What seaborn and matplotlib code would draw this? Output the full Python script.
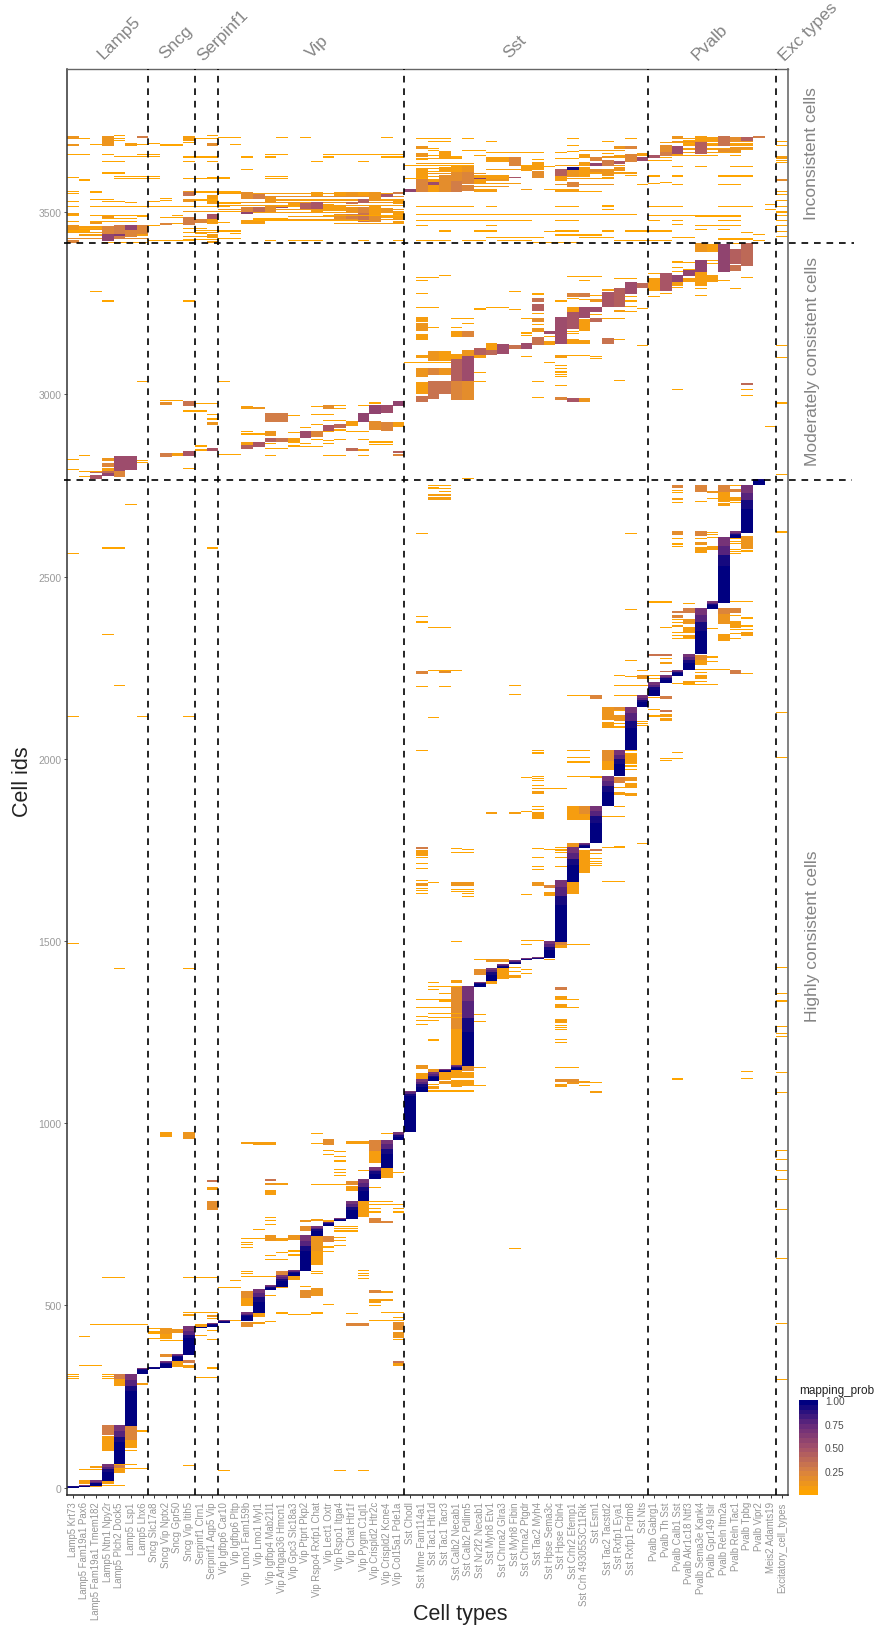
import numpy as np
import pandas as pd
import seaborn as sns
import matplotlib.pyplot as plt
from matplotlib.colors import LinearSegmentedColormap

cell_types = ['Lamp5 Krt73', 'Lamp5 Fam19a1 Pax6', 'Lamp5 Fam19a1 Tmem182', 'Lamp5 Ntn1 Npy2r', 'Lamp5 Plch2 Dock5',
              'Lamp5 Lsp1', 'Lamp5 Lhx6', 'Sncg Slc17a8', 'Sncg Vip Nptx2', 'Sncg Gpr50', 'Sncg Vip Itih5',
              'Serpinf1 Clrn1', 'Serpinf1 Aqp5 Vip', 'Vip Igfbp6 Car10', 'Vip Igfbp6 Pltp', 'Vip Lmo1 Fam159b',
              'Vip Lmo1 Myl1', 'Vip Igfbp4 Mab21l1', 'Vip Arhgap36 Hmcn1', 'Vip Gpc3 Slc18a3', 'Vip Ptprt Pkp2',
              'Vip Rspo4 Rxfp1 Chat', 'Vip Lect1 Oxtr', 'Vip Rspo1 Itga4', 'Vip Chat Htr1f', 'Vip Pygm C1ql1',
              'Vip Crispld2 Htr2c', 'Vip Crispld2 Kcne4', 'Vip Col15a1 Pde1a', 'Sst Chodl', 'Sst Mme Fam114a1',
              'Sst Tac1 Htr1d', 'Sst Tac1 Tacr3', 'Sst Calb2 Necab1', 'Sst Calb2 Pdlim5', 'Sst Nr2f2 Necab1',
              'Sst Myh8 Etv1', 'Sst Chrna2 Glra3', 'Sst Myh8 Fibin', 'Sst Chrna2 Ptgdr', 'Sst Tac2 Myh4',
              'Sst Hpse Sema3c', 'Sst Hpse Cbln4', 'Sst Crhr2 Efemp1', 'Sst Crh 4930553C11Rik', 'Sst Esm1',
              'Sst Tac2 Tacstd2', 'Sst Rxfp1 Eya1', 'Sst Rxfp1 Prdm8', 'Sst Nts', 'Pvalb Gabrg1', 'Pvalb Th Sst',
              'Pvalb Calb1 Sst', 'Pvalb Akr1c18 Ntf3', 'Pvalb Sema3e Kank4', 'Pvalb Gpr149 Islr', 'Pvalb Reln Itm2a',
              'Pvalb Reln Tac1', 'Pvalb Tpbg', 'Pvalb Vipr2', 'Meis2 Adamts19', 'Excitatory_cell_types']

family_names = ['Lamp5', 'Sncg', 'Serpinf1', 'Vip', 'Sst', 'Pvalb', 'Exc types']
family_breaks = [7, 11, 13, 29, 50, 61]
class_names = ['Inconsistent cells', 'Moderately consistent cells', 'Highly consistent cells']
class_breaks = [2766, 3415]

# diagonal blocks: type index, then cell id edges where prob goes 1.0 / 0.9 / 0.78 / 0.65
main_col = [0, 1, 2, 3, 4, 5, 6, 7, 8, 9, 10, 11, 12, 13, 15, 16, 17, 18, 19, 20, 21, 22, 23, 24, 25, 26, 27, 28, 29, 30,
            31, 32, 33, 34, 35, 36, 37, 38, 39, 40, 41, 42, 43, 44, 45, 46, 47, 48, 49, 50, 51, 52, 53, 54, 55, 56, 57, 58, 59]
main_lo = [0, 2, 6, 18, 64, 170, 311, 325, 328, 349, 365, 438, 441, 452, 457, 480, 542, 551, 580, 596, 692, 718, 732, 736, 786, 846, 876, 954, 976, 1086,
           1116, 1140, 1145, 1157, 1375, 1390, 1425, 1436, 1447, 1450, 1453, 1497, 1663, 1755, 1769, 1871, 1952, 2023, 2141, 2173, 2208, 2228, 2243, 2287, 2412, 2429, 2605, 2621, 2751]
main_a = [3, 4, 12, 42, 125, 265, 322, 329, 340, 358, 410, 440, 446, 456, 470, 510, 549, 567, 589, 650, 705, 725, 734, 762, 815, 862, 915, 963, 1075, 1100,
          1127, 1144, 1151, 1250, 1381, 1408, 1430, 1441, 1449, 1452, 1475, 1600, 1710, 1761, 1825, 1910, 1987, 2085, 2156, 2190, 2217, 2235, 2264, 2350, 2421, 2530, 2613, 2685, 2765]
main_b = [4, 5, 14, 50, 140, 280, 325, 330, 343, 362, 420, 441, 448, 457, 474, 522, 551, 572, 592, 664, 709, 727, 736, 770, 825, 868, 930, 967, 1080, 1107,
          1131, 1146, 1154, 1290, 1384, 1414, 1432, 1443, 1450, 1453, 1483, 1625, 1725, 1764, 1842, 1925, 1999, 2105, 2162, 2196, 2221, 2238, 2272, 2375, 2425, 2560, 2617, 2710, 2767]
main_c = [4, 6, 16, 57, 155, 295, 326, 330, 345, 365, 431, 441, 450, 458, 477, 533, 553, 577, 594, 678, 713, 728, 738, 778, 835, 873, 942, 971, 1085, 1114,
          1136, 1147, 1157, 1335, 1386, 1420, 1434, 1445, 1451, 1454, 1491, 1648, 1742, 1767, 1857, 1940, 2011, 2125, 2168, 2203, 2225, 2241, 2280, 2395, 2428, 2585, 2620, 2730, 2767]
main_hi = [4, 7, 19, 64, 170, 310, 327, 330, 348, 367, 442, 441, 452, 458, 480, 544, 555, 582, 596, 692, 716, 729, 739, 786, 846, 878, 954, 974, 1088, 1120,
           1140, 1148, 1159, 1376, 1388, 1426, 1436, 1447, 1452, 1455, 1499, 1666, 1756, 1769, 1871, 1952, 2023, 2142, 2173, 2209, 2228, 2244, 2287, 2412, 2431, 2607, 2623, 2751, 2767]

# off diagonal blocks: first type, last type, first id, last id, prob
bands_high = [(1, 1, 11, 20, .05), (2, 2, 2, 7, .05), (2, 2, 55, 59, .08), (3, 3, 10, 18, .05), (4, 4, 40, 52, .08), (4, 4, 52, 64, .25),
              (3, 3, 146, 170, .25), (3, 3, 100, 141, .05), (5, 5, 132, 168, .22), (5, 5, 110, 130, .05), (4, 4, 296, 310, .28), (4, 4, 278, 296, .08),
              (6, 6, 281, 285, .05), (8, 8, 359, 367, .15), (9, 9, 330, 347, .05), (10, 10, 342, 350, .25), (10, 10, 328, 335, .05),
              (8, 8, 420, 438, .1), (8, 8, 407, 420, .05), (9, 9, 425, 435, .1), (11, 11, 442, 447, .05), (10, 10, 470, 475, .08), (12, 12, 468, 473, .1),
              (8, 8, 962, 974, .08), (10, 10, 958, 974, .12), (12, 12, 838, 843, .3), (12, 12, 817, 823, .08), (12, 12, 761, 785, .15),
              (15, 15, 440, 455, .15), (15, 15, 498, 520, .05), (15, 15, 520, 540, .15), (16, 16, 468, 478, .05), (16, 16, 450, 455, .05),
              (15, 15, 942, 948, .05), (16, 17, 940, 947, .05), (17, 17, 802, 817, .05), (17, 17, 830, 835, .1), (17, 17, 842, 846, .3), (18, 18, 830, 835, .08),
              (17, 17, 677, 692, .12), (18, 18, 678, 685, .05), (19, 19, 680, 692, .1), (20, 20, 705, 717, .15), (20, 20, 728, 733, .12),
              (18, 18, 585, 595, .2), (18, 18, 547, 552, .05), (19, 19, 570, 579, .05), (20, 20, 521, 541, .15), (21, 21, 611, 650, .05), (21, 21, 650, 690, .12),
              (21, 21, 526, 548, .1), (21, 21, 733, 737, .08), (22, 22, 940, 955, .15), (22, 22, 673, 690, .2), (22, 22, 729, 733, .08),
              (24, 25, 944, 951, .05), (24, 24, 830, 841, .15), (24, 24, 814, 826, .05), (25, 25, 742, 785, .08),
              (26, 26, 892, 925, .05), (26, 26, 925, 954, .2), (27, 27, 850, 875, .08), (26, 26, 727, 738, .2), (27, 27, 727, 732, .2),
              (26, 26, 506, 518, .05), (27, 27, 513, 518, .05), (26, 26, 535, 541, .2), (27, 27, 535, 539, .05), (24, 25, 443, 452, .2),
              (28, 28, 434, 453, .15), (28, 28, 410, 425, .1), (28, 28, 343, 347, .3), (28, 28, 334, 340, .05),
              (30, 30, 1150, 1159, .12), (30, 30, 1122, 1137, .05), (31, 31, 1141, 1148, .12), (31, 31, 1093, 1100, .05), (32, 32, 1118, 1139, .05), (32, 32, 1107, 1115, .12),
              (33, 33, 1160, 1260, .05), (33, 33, 1260, 1376, .18), (33, 33, 1123, 1145, .05), (33, 33, 1100, 1118, .05), (34, 34, 1143, 1156, .15),
              (34, 34, 1123, 1140, .05), (34, 34, 1101, 1118, .05), (42, 42, 1320, 1326, .08), (42, 42, 1276, 1285, .08), (42, 42, 1099, 1108, .05),
              (42, 43, 1112, 1120, .18), (43, 43, 1107, 1112, .1), (44, 44, 1111, 1115, .05), (45, 45, 1082, 1087, .05),
              (30, 30, 1752, 1757, .25), (30, 30, 1734, 1750, .05), (30, 30, 1652, 1659, .1), (33, 34, 1650, 1662, .1),
              (40, 40, 1650, 1660, .12), (41, 41, 1645, 1654, .2), (41, 41, 1625, 1633, .05), (43, 43, 1756, 1768, .12), (44, 44, 1688, 1750, .05),
              (45, 45, 1746, 1752, .3), (43, 43, 1628, 1662, .08), (42, 42, 1480, 1490, .05), (42, 42, 1490, 1496, .2), (36, 37, 1442, 1450, .12), (36, 36, 1383, 1389, .05),
              (35, 35, 1407, 1423, .15), (37, 37, 1395, 1424, .05), (38, 38, 1398, 1406, .05), (33, 33, 1386, 1392, .05), (42, 42, 1366, 1372, .25), (42, 42, 1342, 1348, .05),
              (40, 40, 1834, 1853, .05), (36, 36, 1848, 1852, .05), (38, 38, 1848, 1852, .05), (43, 43, 1832, 1871, .07), (44, 44, 1832, 1850, .06), (44, 44, 1850, 1871, .15),
              (40, 40, 1916, 1919, .05), (40, 40, 1903, 1910, .05), (46, 46, 2107, 2142, .12), (46, 46, 2086, 2101, .05), (47, 47, 2130, 2142, .15), (47, 47, 2105, 2120, .12),
              (46, 46, 1970, 1995, .05), (46, 46, 1995, 2022, .18), (48, 48, 1990, 2012, .08), (47, 47, 1935, 1949, .2), (47, 47, 1900, 1909, .05), (48, 48, 1939, 1950, .12),
              (48, 48, 1921, 1933, .08), (48, 48, 1897, 1906, .05), (49, 49, 2218, 2228, .1), (45, 45, 2164, 2173, .2), (51, 51, 2164, 2171, .25), (51, 51, 2129, 2134, .3),
              (51, 51, 2116, 2122, .08), (51, 51, 2104, 2110, .05), (50, 51, 2283, 2287, .3), (51, 51, 2260, 2266, .05), (51, 51, 2238, 2241, .3), (52, 52, 2400, 2405, .25),
              (52, 52, 2386, 2394, .2), (52, 52, 2361, 2367, .08), (53, 53, 2400, 2412, .25), (53, 53, 2370, 2383, .1), (53, 53, 2345, 2360, .07), (53, 53, 2333, 2340, .05),
              (53, 53, 2203, 2212, .05), (52, 52, 2614, 2624, .18), (54, 54, 2566, 2580, .05), (54, 54, 2586, 2595, .1), (54, 54, 2612, 2623, .2), (55, 55, 2574, 2584, .05),
              (54, 54, 2733, 2751, .2), (55, 55, 2729, 2735, .1), (52, 52, 2742, 2751, .2), (52, 52, 2711, 2714, .05), (56, 56, 2731, 2751, .2), (56, 56, 2705, 2731, .08),
              (56, 56, 2694, 2701, .05), (57, 57, 2732, 2740, .2), (57, 57, 2708, 2717, .06), (56, 56, 2397, 2412, .2), (56, 56, 2369, 2397, .1), (56, 56, 2324, 2342, .05),
              (57, 57, 2400, 2412, .22), (57, 57, 2360, 2376, .08), (58, 58, 2338, 2346, .05), (58, 58, 2575, 2610, .14), (54, 54, 2257, 2270, .05), (54, 54, 2270, 2285, .15),
              (54, 54, 2218, 2228, .05), (57, 57, 2234, 2244, .25), (31, 32, 2711, 2717, .05), (31, 32, 2722, 2726, .06), (30, 30, 2234, 2239, .2), (32, 32, 2236, 2240, .15)]

bands_mod = [(3, 3, 2818, 2825, .1), (3, 3, 2800, 2812, .2), (3, 3, 2790, 2797, .05), (3, 3, 2777, 2788, .55), (4, 4, 2790, 2830, .52), (4, 4, 2773, 2788, .2),
             (5, 5, 2792, 2830, .5), (2, 2, 2768, 2779, .45), (2, 3, 2785, 2788, .35), (8, 8, 2829, 2839, .25), (8, 8, 2972, 2978, .15), (9, 9, 2832, 2839, .05),
             (10, 10, 2969, 2980, .3), (10, 10, 2832, 2845, .45), (12, 12, 2917, 2923, .12), (12, 12, 2845, 2853, .45), (15, 15, 2960, 2967, .05), (16, 16, 2960, 2965, .1),
             (15, 15, 2860, 2868, .05), (15, 15, 2850, 2860, .4), (16, 16, 2855, 2868, .45), (17, 18, 2925, 2949, .25), (17, 17, 2887, 2898, .1), (17, 17, 2870, 2880, .4),
             (18, 18, 2870, 2880, .3), (19, 19, 2870, 2880, .05), (20, 20, 2880, 2900, .5), (21, 21, 2883, 2900, .2), (22, 22, 2960, 2969, .15), (22, 22, 2900, 2914, .45),
             (23, 23, 2907, 2919, .35), (24, 24, 2914, 2925, .05), (24, 24, 2845, 2852, .35), (25, 25, 2923, 2949, .55), (25, 25, 2845, 2850, .05), (26, 26, 2946, 2969, .55),
             (26, 26, 2903, 2925, .15), (27, 27, 2948, 2971, .5), (27, 27, 2900, 2923, .2), (28, 28, 2969, 2982, .55), (28, 28, 2912, 2923, .08), (28, 28, 2840, 2845, .4), (28, 28, 2832, 2836, .2),
             (30, 30, 3200, 3212, .08), (30, 30, 3175, 3196, .1), (30, 30, 3150, 3165, .05), (30, 30, 3100, 3107, .05), (30, 30, 3047, 3072, .12), (30, 30, 3001, 3033, .05), (30, 30, 2980, 2994, .3),
             (31, 31, 3093, 3118, .1), (31, 31, 3054, 3071, .2), (31, 31, 2988, 3037, .32), (32, 32, 3093, 3118, .07), (32, 32, 3054, 3071, .1), (32, 32, 3000, 3037, .3),
             (33, 33, 3157, 3172, .05), (33, 33, 3096, 3110, .05), (33, 33, 3035, 3096, .42), (33, 33, 2985, 3035, .2), (34, 34, 3157, 3172, .2), (34, 34, 3105, 3120, .1),
             (34, 34, 3035, 3105, .5), (34, 34, 2985, 3035, .15), (35, 35, 3106, 3126, .42), (35, 35, 3100, 3106, .05), (36, 36, 3120, 3140, .08), (36, 36, 3108, 3120, .35),
             (37, 37, 3111, 3138, .5), (38, 38, 3125, 3135, .3), (39, 39, 3126, 3140, .5), (40, 40, 3255, 3263, .3), (40, 40, 3230, 3248, .4), (40, 40, 3198, 3209, .15),
             (40, 40, 3170, 3181, .1), (40, 40, 3135, 3157, .32), (41, 41, 3166, 3172, .5), (41, 41, 3137, 3145, .05), (42, 42, 3138, 3212, .5), (42, 42, 3100, 3106, .05), (42, 42, 2985, 2992, .2),
             (43, 43, 3268, 3277, .2), (43, 43, 3225, 3239, .05), (43, 43, 3180, 3225, .48), (43, 43, 3138, 3152, .07), (43, 43, 2980, 2990, .45), (44, 44, 3268, 3277, .25),
             (44, 44, 3209, 3239, .5), (44, 44, 3175, 3207, .08), (44, 44, 3138, 3147, .05), (44, 44, 2980, 2988, .1), (45, 45, 3225, 3239, .5), (45, 45, 3255, 3262, .1), (45, 45, 3200, 3210, .35),
             (46, 46, 3285, 3289, .05), (46, 46, 3239, 3280, .45), (46, 46, 3138, 3154, .3), (47, 47, 3239, 3291, .4), (47, 47, 3225, 3232, .05), (48, 48, 3276, 3308, .5), (49, 49, 3292, 3304, .35),
             (50, 50, 3285, 3318, .07), (51, 51, 3285, 3333, .48), (52, 52, 3308, 3326, .55), (52, 52, 3298, 3308, .05), (53, 53, 3326, 3342, .55), (53, 53, 3308, 3318, .05),
             (54, 54, 3335, 3367, .55), (54, 54, 3298, 3335, .05), (54, 54, 3390, 3414, .12), (55, 55, 3308, 3326, .05), (55, 55, 3390, 3412, .07), (56, 56, 3335, 3413, .55),
             (57, 57, 3358, 3399, .4), (57, 57, 3340, 3353, .3), (58, 58, 3353, 3414, .35), (58, 58, 3025, 3029, .35)]

bands_incons = [(0, 0, 3701, 3708, .1), (0, 0, 3683, 3687, .1), (0, 0, 3445, 3463, .1), (0, 0, 3416, 3424, .2), (0, 0, 3492, 3497, .05), (3, 3, 3683, 3708, .1), (5, 5, 3683, 3688, .05),
                (6, 6, 3703, 3708, .25), (10, 10, 3696, 3708, .05), (12, 12, 3683, 3690, .15), (5, 5, 3590, 3593, .05),
                (10, 10, 3545, 3555, .3), (10, 10, 3527, 3536, .1), (12, 12, 3523, 3545, .05), (15, 15, 3536, 3555, .15), (15, 15, 3500, 3513, .2), (15, 15, 3495, 3500, .55),
                (16, 16, 3536, 3550, .25), (16, 16, 3500, 3513, .35), (17, 17, 3527, 3540, .1), (17, 17, 3500, 3515, .15), (18, 18, 3512, 3516, .5), (19, 19, 3513, 3525, .05),
                (20, 20, 3509, 3525, .4), (21, 21, 3545, 3554, .05), (21, 21, 3509, 3527, .45), (21, 21, 3497, 3505, .05), (22, 22, 3504, 3522, .07), (23, 23, 3545, 3554, .05), (23, 23, 3504, 3518, .05),
                (23, 23, 3481, 3495, .15), (24, 24, 3545, 3554, .12), (24, 24, 3522, 3527, .3), (24, 24, 3499, 3513, .1), (24, 24, 3481, 3495, .25), (25, 25, 3545, 3554, .05),
                (25, 25, 3525, 3536, .4), (25, 25, 3499, 3513, .2), (25, 25, 3474, 3497, .3), (26, 26, 3531, 3554, .12), (26, 26, 3490, 3516, .08), (26, 26, 3474, 3488, .15), (27, 27, 3541, 3550, .45),
                (27, 27, 3499, 3510, .1), (27, 27, 3483, 3490, .08), (28, 28, 3549, 3554, .25), (28, 28, 3522, 3536, .06), (28, 28, 3481, 3502, .05), (28, 28, 3468, 3476, .05),
                (3, 3, 3422, 3440, .55), (3, 3, 3440, 3461, .2), (4, 4, 3426, 3465, .25), (4, 4, 3435, 3440, .6), (5, 5, 3452, 3463, .55), (5, 5, 3432, 3450, .2), (6, 6, 3440, 3463, .2),
                (8, 8, 3465, 3470, .2), (10, 10, 3465, 3486, .25), (11, 11, 3470, 3481, .2), (12, 12, 3480, 3495, .45), (12, 12, 3468, 3480, .05), (12, 12, 3430, 3440, .07), (12, 12, 3416, 3421, .07),
                (15, 16, 3469, 3478, .05), (1, 1, 3445, 3454, .05), (2, 2, 3468, 3472, .1), (3, 3, 3481, 3490, .12),
                (29, 29, 3556, 3563, .55), (30, 30, 3673, 3681, .12), (30, 30, 3652, 3662, .12), (30, 30, 3591, 3617, .07), (30, 30, 3556, 3591, .2), (31, 31, 3581, 3590, .07), (31, 31, 3573, 3581, .5),
                (31, 31, 3556, 3573, .05), (32, 32, 3650, 3668, .05), (32, 32, 3610, 3623, .07), (32, 32, 3556, 3600, .15), (33, 33, 3610, 3627, .06), (33, 33, 3586, 3610, .15), (33, 33, 3556, 3586, .25),
                (34, 34, 3610, 3627, .1), (34, 34, 3578, 3609, .2), (34, 34, 3559, 3573, .2), (35, 35, 3578, 3600, .08), (35, 35, 3590, 3593, .6), (35, 35, 3556, 3563, .05), (36, 36, 3637, 3650, .05),
                (36, 36, 3591, 3600, .05), (36, 36, 3556, 3563, .05), (37, 37, 3637, 3650, .08), (37, 37, 3591, 3600, .05), (38, 38, 3628, 3650, .2), (38, 38, 3593, 3597, .45), (39, 39, 3614, 3628, .06),
                (39, 39, 3560, 3564, .05), (40, 40, 3618, 3636, .05), (40, 40, 3594, 3612, .15), (42, 42, 3600, 3618, .4), (42, 42, 3586, 3598, .07), (42, 42, 3556, 3563, .05),
                (43, 43, 3617, 3622, .92), (43, 43, 3596, 3614, .12), (43, 43, 3568, 3581, .2), (43, 43, 3556, 3563, .05), (44, 44, 3650, 3660, .05), (44, 44, 3627, 3637, .05), (44, 44, 3609, 3623, .05),
                (44, 44, 3596, 3605, .05), (45, 45, 3640, 3650, .2), (45, 45, 3627, 3635, .55), (45, 45, 3609, 3618, .15), (46, 46, 3627, 3641, .25), (46, 46, 3600, 3618, .1), (47, 47, 3673, 3681, .1),
                (47, 47, 3648, 3657, .06), (47, 47, 3632, 3640, .45), (47, 47, 3614, 3623, .12), (48, 48, 3673, 3681, .2), (48, 48, 3637, 3660, .22), (49, 49, 3655, 3662, .06), (49, 49, 3640, 3651, .5),
                (50, 50, 3650, 3657, .45), (51, 51, 3664, 3684, .15), (51, 51, 3654, 3664, .25), (52, 52, 3702, 3708, .1), (52, 52, 3660, 3682, .5), (52, 52, 3654, 3660, .05), (54, 54, 3696, 3708, .05),
                (54, 54, 3660, 3692, .4), (55, 55, 3694, 3706, .07), (56, 56, 3683, 3708, .3), (56, 56, 3666, 3673, .15), (57, 57, 3696, 3705, .15), (57, 57, 3666, 3678, .12), (58, 58, 3696, 3705, .4),
                (58, 58, 3673, 3678, .1), (59, 59, 3703, 3708, .25), (61, 61, 3645, 3652, .05), (61, 61, 3586, 3590, .15)]

# stripes that fill the busy parts of the top class, drawn under the other bands
stripes_incons = [(13, 28, 3550, 3552, .06), (15, 28, 3541, 3543, .15), (17, 28, 3532, 3534, .08), (15, 28, 3525, 3527, .1), (13, 28, 3518, 3520, .05), (13, 28, 3506, 3508, .12),
                  (15, 28, 3498, 3500, .07), (19, 28, 3486, 3488, .05), (19, 28, 3478, 3480, .1), (23, 28, 3468, 3470, .08), (0, 6, 3458, 3460, .05), (1, 6, 3450, 3452, .12),
                  (0, 6, 3443, 3445, .08), (1, 6, 3436, 3438, .05), (0, 6, 3426, 3428, .15), (10, 12, 3555, 3557, .1), (10, 12, 3500, 3502, .05), (10, 12, 3442, 3444, .08), (10, 12, 3432, 3434, .05),
                  (30, 35, 3605, 3607, .12), (30, 37, 3597, 3599, .05), (30, 37, 3587, 3589, .1), (30, 38, 3578, 3580, .06), (30, 37, 3570, 3572, .12), (30, 35, 3562, 3564, .05),
                  (30, 34, 3619, 3621, .06), (30, 34, 3633, 3635, .05), (30, 33, 3645, 3647, .05), (36, 40, 3615, 3617, .06), (42, 47, 3627, 3629, .06), (42, 47, 3612, 3614, .08),
                  (42, 46, 3590, 3592, .05), (42, 46, 3575, 3577, .1), (42, 48, 3606, 3608, .05), (46, 48, 3650, 3652, .1), (44, 47, 3668, 3670, .05),
                  (52, 58, 3702, 3704, .07), (52, 58, 3692, 3694, .1), (53, 58, 3683, 3685, .06), (52, 58, 3672, 3674, .08), (52, 57, 3662, 3664, .05), (51, 53, 3690, 3692, .07)]

# single cells drawn as thin orange lines: first type, last type, cell id
lines_high = [(3, 4, 5), (1, 2, 49), (4, 6, 52), (10, 10, 60), (4, 5, 62), (5, 5, 101), (6, 6, 154), (13, 13, 45), (23, 23, 45), (25, 25, 45),
              (3, 3, 309), (3, 3, 303), (3, 3, 297), (0, 0, 309), (0, 0, 303), (0, 0, 297), (11, 12, 302), (1, 2, 334), (12, 12, 327), (1, 1, 414), (2, 6, 447),
              (7, 7, 436), (7, 7, 427), (7, 7, 423), (7, 7, 409), (8, 10, 403), (11, 11, 417), (12, 12, 405), (12, 12, 430), (12, 12, 464), (10, 12, 480), (14, 14, 457),
              (17, 17, 455), (17, 17, 527), (13, 14, 548), (14, 14, 566), (10, 12, 576), (3, 4, 576), (18, 18, 478), (19, 20, 475), (21, 21, 478), (15, 17, 579),
              (15, 15, 592), (15, 15, 587), (21, 21, 592), (21, 21, 586), (15, 16, 683), (15, 15, 672), (15, 15, 667), (15, 15, 658), (17, 17, 740), (17, 17, 732), (17, 17, 720),
              (17, 17, 635), (17, 18, 625), (18, 18, 643), (19, 19, 648), (19, 19, 637), (16, 16, 708), (20, 20, 551), (21, 21, 971), (21, 21, 944), (21, 21, 831),
              (22, 22, 923), (22, 22, 912), (22, 23, 830), (22, 22, 659), (22, 22, 647), (22, 22, 500), (23, 23, 922), (23, 23, 908), (23, 23, 895), (23, 23, 871), (23, 23, 864), (23, 23, 855),
              (23, 24, 715), (23, 24, 709), (23, 24, 703), (23, 23, 685), (23, 23, 678), (23, 23, 662), (24, 24, 477), (25, 25, 594), (25, 25, 587), (25, 25, 580), (25, 25, 572), (26, 26, 823),
              (25, 25, 870), (27, 27, 970), (26, 27, 785), (26, 28, 775), (26, 26, 765), (26, 26, 755), (28, 28, 864), (28, 28, 765), (28, 28, 755), (27, 28, 480), (28, 28, 466), (26, 28, 458),
              (28, 28, 406), (26, 26, 498), (30, 32, 1317), (30, 30, 1292), (30, 31, 1281), (30, 30, 1270), (31, 33, 1299), (31, 33, 1288), (32, 32, 1334), (31, 31, 1227), (35, 35, 1298),
              (35, 35, 1279), (31, 31, 1105), (31, 31, 1087), (32, 32, 1087), (33, 34, 1087), (35, 35, 1152), (35, 35, 1103), (42, 43, 1317), (42, 42, 1268), (42, 42, 1261), (42, 42, 1257),
              (42, 42, 1229), (42, 42, 1221), (42, 43, 1152), (44, 44, 1103), (45, 45, 1111), (52, 52, 1120), (58, 58, 1141), (58, 58, 1122), (38, 38, 654),
              (61, 61, 1334), (61, 61, 1265), (61, 61, 1246), (61, 61, 1237), (61, 61, 1139), (61, 61, 1084), (61, 61, 925), (61, 61, 900), (61, 61, 870), (61, 61, 845), (61, 61, 763),
              (61, 61, 628), (61, 61, 450), (61, 61, 296), (61, 61, 1427), (61, 61, 1354), (61, 61, 2621), (61, 61, 2125), (61, 61, 2001),
              (0, 0, 2563), (3, 4, 2577), (12, 12, 2577), (5, 5, 2696), (3, 3, 2339), (4, 4, 2201), (0, 0, 2114), (6, 6, 2114), (10, 10, 2114), (0, 0, 1492), (4, 4, 1424), (10, 10, 1424),
              (31, 32, 2748), (31, 31, 2744), (31, 32, 2740), (32, 32, 2731), (30, 30, 2617), (48, 48, 2617), (30, 30, 2390), (30, 30, 2374), (31, 32, 2360), (48, 48, 2409), (31, 33, 2241),
              (30, 30, 2198), (32, 32, 2198), (38, 38, 2201), (38, 38, 2174), (31, 31, 2111), (30, 30, 2022), (48, 48, 2022), (40, 40, 2022), (40, 40, 2017), (40, 40, 2012), (43, 44, 2022),
              (43, 44, 2003), (43, 44, 1990), (40, 40, 1951), (40, 40, 1945), (40, 40, 1938), (40, 40, 1925), (39, 39, 1947), (41, 42, 1916), (43, 45, 1951), (45, 45, 1947), (40, 40, 1868), (40, 40, 1860),
              (39, 39, 1854), (46, 47, 1840), (47, 47, 1868), (30, 30, 1729), (30, 30, 1711), (30, 30, 1697), (30, 30, 1665), (30, 30, 1643), (30, 30, 1637), (30, 30, 1630), (31, 31, 1659),
              (33, 33, 1752), (33, 33, 1741), (34, 34, 1750), (34, 34, 1741), (33, 34, 1640), (33, 34, 1635), (34, 34, 1628), (34, 34, 1622), (40, 40, 1752), (40, 40, 1729), (40, 40, 1702),
              (40, 40, 1694), (41, 42, 1749), (39, 39, 1627), (42, 42, 1756), (42, 42, 1747), (42, 42, 1741), (42, 42, 1729), (42, 42, 1703), (45, 45, 1738), (45, 45, 1725), (45, 45, 1718),
              (45, 45, 1712), (45, 45, 1706), (46, 47, 1755), (47, 47, 1758), (49, 49, 1767), (46, 47, 1662), (43, 44, 1489), (39, 39, 1499), (39, 39, 1489), (40, 40, 1499), (33, 33, 1498), (35, 35, 1448),
              (41, 41, 1449), (38, 38, 1425), (38, 38, 1415), (39, 39, 1420), (39, 39, 1410), (31, 31, 1386), (31, 33, 1375), (31, 31, 1365), (32, 32, 1354), (42, 43, 1337), (30, 32, 1337),
              (49, 49, 2241), (47, 47, 2227), (48, 48, 2225), (47, 49, 2200), (47, 49, 2173), (43, 44, 2173), (48, 48, 2269), (47, 47, 2130), (47, 47, 2095), (47, 47, 2086), (49, 49, 2101), (49, 49, 2095), (49, 49, 2090),
              (48, 48, 2012), (48, 48, 1985), (48, 48, 1979), (48, 48, 1970), (47, 47, 1920), (50, 51, 2429), (51, 51, 2360), (51, 51, 2275), (50, 50, 2227), (50, 50, 2220), (52, 53, 2205),
              (50, 50, 2168), (50, 50, 2133), (50, 50, 2116), (52, 52, 2382), (52, 52, 2372), (52, 52, 2344), (52, 52, 2338), (52, 52, 2330), (53, 53, 2424), (53, 53, 2328), (51, 52, 2000), (51, 51, 1995), (52, 52, 2016),
              (52, 52, 2602), (52, 52, 2588), (52, 52, 2582), (55, 55, 2620), (55, 55, 2613), (55, 55, 2606), (54, 54, 2604), (54, 54, 2705), (55, 55, 2714), (52, 52, 2735), (52, 52, 2729), (52, 52, 2703),
              (57, 57, 2749), (57, 57, 2703), (57, 57, 2602), (57, 57, 2596), (57, 57, 2589), (57, 57, 2573), (57, 57, 2567), (57, 57, 2562), (58, 58, 2569), (56, 58, 2431), (57, 57, 2393), (57, 57, 2353), (57, 57, 2342), (57, 57, 2330),
              (58, 58, 2385), (58, 58, 2363), (58, 58, 2354), (55, 55, 2356), (54, 56, 2243), (58, 58, 2232), (54, 54, 2236), (54, 54, 2210), (53, 55, 2203), (55, 55, 2266), (55, 55, 2278)]

lines_mod = [(2, 2, 3280), (3, 3, 3255), (10, 10, 3255), (6, 6, 3035), (13, 13, 3035), (29, 30, 3085), (0, 0, 2819), (0, 0, 2792), (1, 1, 2832), (1, 2, 2788), (1, 1, 2773), (6, 6, 2818), (6, 6, 2811),
             (8, 9, 2981), (10, 11, 2953), (10, 10, 2795), (11, 11, 2974), (12, 12, 2973), (12, 12, 2944), (12, 12, 2931), (11, 11, 2857), (11, 11, 2846), (13, 14, 2833), (15, 15, 2896), (15, 16, 2890),
             (17, 17, 2864), (17, 18, 2850), (17, 17, 2832), (19, 19, 2940), (19, 19, 2894), (19, 19, 2866), (19, 19, 2857), (20, 20, 2907), (20, 20, 2864), (20, 21, 2855), (21, 21, 2966), (21, 21, 2943),
             (21, 21, 2916), (21, 21, 2874), (22, 22, 2943), (22, 23, 2927), (22, 22, 2896), (22, 22, 2871), (22, 22, 2863), (22, 23, 2832), (23, 23, 2969), (23, 23, 2960), (23, 23, 2901), (23, 23, 2874),
             (24, 25, 2896), (25, 25, 2969), (25, 25, 2875), (25, 25, 2832), (26, 26, 2975), (26, 26, 2868), (26, 27, 2860), (27, 27, 2868), (30, 31, 3320), (30, 30, 3310), (30, 30, 3275),
             (30, 31, 3236), (31, 31, 3181), (31, 32, 3085), (32, 32, 3324), (33, 34, 3208), (33, 33, 3181), (34, 34, 3192), (35, 35, 3233), (35, 35, 3058), (35, 35, 3035), (36, 37, 3236), (38, 38, 3280),
             (38, 38, 3232), (39, 39, 3207), (39, 39, 3167), (39, 39, 3160), (39, 39, 3102), (40, 40, 3274), (40, 40, 3220), (40, 40, 3190), (40, 40, 3035), (40, 40, 2989), (41, 41, 3157), (41, 41, 3085),
             (42, 42, 3255), (42, 42, 3077), (42, 42, 3070), (42, 42, 3060), (42, 42, 3054), (42, 42, 3047), (42, 42, 3022), (43, 45, 3321), (43, 43, 3262), (43, 43, 3170), (43, 43, 3165), (43, 44, 3105),
             (44, 44, 3310), (44, 44, 3260), (45, 45, 3271), (45, 45, 3217), (45, 45, 3103), (45, 45, 3097), (46, 46, 3207), (47, 47, 3316), (47, 47, 3207), (47, 47, 3150), (47, 47, 3036), (48, 48, 3316), (48, 48, 3266),
             (48, 48, 3255), (48, 48, 3241), (48, 48, 3225), (49, 49, 3234), (49, 49, 3132), (50, 50, 3330), (50, 50, 3266), (51, 51, 3275), (52, 52, 3362), (52, 52, 3347), (52, 52, 3337), (52, 52, 3291), (52, 52, 3011),
             (53, 53, 3361), (53, 53, 3342), (54, 54, 3271), (54, 54, 3290), (55, 55, 3365), (55, 55, 3358), (56, 56, 3310), (57, 57, 3290), (57, 57, 3413), (58, 58, 3319), (58, 58, 3012), (58, 58, 2995),
             (61, 61, 3132), (61, 61, 3100), (61, 61, 2975), (61, 61, 2779), (60, 60, 2910), (34, 34, 2768)]

lines_incons = [(1, 1, 3700), (2, 2, 3685), (4, 4, 3708), (4, 4, 3702), (4, 4, 3696), (6, 6, 3685), (7, 7, 3688), (8, 9, 3683), (10, 10, 3690), (11, 11, 3701), (12, 12, 3708), (12, 12, 3700),
                (0, 1, 3657), (3, 3, 3657), (6, 7, 3657), (4, 7, 3651), (3, 4, 3637), (10, 10, 3637), (12, 12, 3637), (21, 21, 3637), (25, 25, 3637), (10, 12, 3650), (3, 4, 3606), (4, 7, 3597),
                (4, 7, 3591), (12, 13, 3595), (10, 13, 3590), (17, 18, 3597), (17, 18, 3590), (13, 14, 3703), (14, 14, 3685), (15, 15, 3650), (15, 15, 3615), (18, 18, 3703), (20, 20, 3703), (27, 27, 3703),
                (17, 18, 3656), (22, 28, 3656), (17, 17, 3650), (22, 22, 3650), (27, 28, 3650), (21, 21, 3637), (0, 0, 3595), (1, 1, 3587), (0, 0, 3555), (0, 0, 3549), (2, 2, 3554), (0, 0, 3527), (2, 3, 3533),
                (3, 4, 3527), (5, 5, 3524), (0, 0, 3513), (2, 8, 3513), (7, 7, 3527), (8, 8, 3536), (8, 8, 3530), (9, 9, 3490), (2, 6, 3490), (0, 0, 3490), (3, 5, 3482), (0, 0, 3474), (2, 3, 3472), (4, 5, 3472), (6, 6, 3488),
                (8, 9, 3485), (7, 7, 3463), (9, 9, 3467), (0, 1, 3447), (1, 2, 3454), (3, 6, 3416), (7, 10, 3422), (10, 11, 3454), (10, 10, 3444), (10, 12, 3424), (11, 11, 3440), (11, 12, 3449), (13, 14, 3447), (14, 14, 3440),
                (13, 14, 3426), (13, 14, 3500), (13, 14, 3522), (13, 13, 3470), (11, 14, 3554), (11, 12, 3532), (13, 14, 3525), (18, 19, 3515), (19, 20, 3421), (17, 17, 3421), (21, 21, 3421), (25, 25, 3421), (28, 28, 3421),
                (7, 7, 3421), (14, 14, 3522), (9, 13, 3513), (16, 25, 3475), (22, 28, 3490), (16, 18, 3480),
                (30, 30, 3700), (31, 32, 3692), (30, 32, 3701), (30, 30, 3644), (31, 31, 3673), (31, 31, 3667), (31, 31, 3655), (30, 34, 3627), (29, 29, 3627), (29, 30, 3590), (31, 31, 3609), (33, 33, 3650),
                (34, 34, 3700), (34, 35, 3668), (36, 36, 3692), (36, 38, 3662), (35, 35, 3653), (38, 39, 3662), (39, 39, 3627), (40, 40, 3662), (40, 40, 3642), (41, 41, 3625), (41, 42, 3562), (42, 42, 3662), (42, 42, 3646),
                (43, 43, 3700), (43, 43, 3681), (43, 43, 3664), (43, 43, 3646), (44, 45, 3556), (46, 46, 3692), (46, 46, 3659), (46, 46, 3595), (48, 48, 3700), (48, 48, 3600), (49, 49, 3574), (50, 50, 3640), (50, 50, 3598), (50, 50, 3577),
                (51, 51, 3648), (51, 51, 3641), (51, 51, 3579), (52, 52, 3623), (52, 52, 3598), (52, 52, 3575), (53, 53, 3696), (53, 53, 3686), (53, 53, 3655), (54, 54, 3655), (54, 54, 3623), (55, 55, 3687), (55, 55, 3655),
                (56, 56, 3598), (56, 56, 3575), (57, 57, 3687), (57, 57, 3653), (57, 57, 3623), (57, 57, 3598), (57, 57, 3574), (58, 58, 3687), (58, 58, 3623), (58, 58, 3598), (60, 60, 3519), (60, 60, 3507),
                (30, 33, 3513), (34, 34, 3513), (36, 36, 3513), (42, 43, 3513), (46, 46, 3513), (46, 46, 3518), (50, 52, 3513), (56, 57, 3513), (58, 58, 3513), (30, 48, 3493), (50, 53, 3490), (54, 57, 3488), (46, 46, 3505),
                (30, 39, 3475), (42, 43, 3475), (48, 48, 3493), (50, 50, 3475), (52, 52, 3475), (56, 57, 3475), (52, 52, 3464), (54, 57, 3462), (36, 36, 3462), (30, 30, 3462), (32, 32, 3447), (35, 36, 3447), (41, 41, 3445),
                (42, 43, 3447), (46, 46, 3447), (48, 49, 3447), (54, 54, 3451), (50, 51, 3447), (56, 56, 3452), (58, 58, 3444), (59, 59, 3437), (36, 40, 3428), (42, 43, 3436), (44, 46, 3428), (48, 49, 3421),
                (30, 32, 3421), (34, 35, 3421), (37, 39, 3421), (40, 43, 3415), (44, 45, 3436), (47, 48, 3421), (50, 51, 3421), (52, 53, 3428), (56, 58, 3425), (59, 59, 3421),
                (61, 61, 3692), (61, 61, 3682), (61, 61, 3640), (61, 61, 3634), (61, 61, 3556), (61, 61, 3548), (61, 61, 3530), (61, 61, 3514), (61, 61, 3499), (61, 61, 3490), (61, 61, 3476), (61, 61, 3463), (61, 61, 3445), (61, 61, 3433)]

sns.set_style('white')
plt.rcParams['font.family'] = ['Liberation Sans', 'DejaVu Sans']

# orange to navy, roughly what the legend shows
cmap = LinearSegmentedColormap.from_list('prob', ['#FFA500', '#D57F45', '#A3506A', '#66297B', '#000080']).resampled(20)

grid = np.full((3893, len(cell_types)), np.nan)
for c0, c1, lo, hi, p in stripes_incons + bands_high + bands_mod + bands_incons:
    grid[lo:hi + 1, c0:c1 + 1] = p
for c0, c1, cell in lines_high + lines_mod + lines_incons:
    grid[cell:cell + 3, c0:c1 + 1] = 0.04
for i, c in enumerate(main_col):
    grid[main_lo[i]:main_a[i] + 1, c] = 1.0
    grid[main_a[i]:main_b[i] + 1, c] = 0.9
    grid[main_b[i]:main_c[i] + 1, c] = 0.78
    grid[main_c[i]:main_hi[i] + 1, c] = 0.65
heat = pd.DataFrame(grid, columns=cell_types)

W, H = 876, 1631
fig = plt.figure(figsize=(W / 100, H / 100), dpi=100)
ax = fig.add_axes([67 / W, 1 - 1496 / H, (788 - 67) / W, (1496 - 70) / H])
cax = fig.add_axes([799 / W, 1 - 1496 / H, 19 / W, 95 / H])

sns.heatmap(heat, ax=ax, cmap=cmap, vmin=0, vmax=1, cbar_ax=cax, xticklabels=cell_types, yticklabels=False,
            cbar_kws={'ticks': [0.25, 0.5, 0.75, 1.0], 'format': '%.2f'})
ax.set_ylim(-20, 3893)
ax.set_yticks(range(0, 4000, 500))
ax.set_yticklabels([str(v) for v in range(0, 4000, 500)], fontsize=7.5, color='#9a9a9a')
ax.tick_params(axis='y', length=2.5, width=0.7, color='#555555', pad=1.5, rotation=0, left=True)
ax.tick_params(axis='x', length=2.5, width=0.7, color='#333333', pad=2, labelsize=6.9, labelcolor='#969696', rotation=90, bottom=True)
ax.set_xlabel('Cell types', fontsize=15.5, color='#222222')
ax.xaxis.set_label_coords((460 - 67) / (788 - 67), -(1604 - 1496) / (1496 - 70), transform=ax.transAxes)
ax.set_ylabel('Cell ids', fontsize=15.5, color='#222222')
ax.yaxis.set_label_coords(-(67 - 33) / (788 - 67), (1496 - 782) / (1496 - 70), transform=ax.transAxes)

for name, sp in ax.spines.items():
    sp.set_visible(True)
ax.spines['left'].set(color='#333333', linewidth=1.1)
ax.spines['bottom'].set(color='#222222', linewidth=1.1)
ax.spines['top'].set(color='#666666', linewidth=1.0)
ax.spines['right'].set(color='#777777', linewidth=1.3)

dash = (0, (4, 3.5))
for x in family_breaks:
    ax.axvline(x, color='black', lw=1.2, ls=dash, zorder=5)
ax.plot([-0.3, 67.7], [class_breaks[1]] * 2, color='black', lw=1.2, ls=dash, clip_on=False, zorder=5)
ax.plot([-0.3, 67.5], [class_breaks[0]] * 2, color='black', lw=1.2, ls=dash, clip_on=False, zorder=5)

family_px = [(119, 38), (176, 43), (223, 36), (317, 47), (515, 47), (710, 42), (808, 32)]
for name, (px, py) in zip(family_names, family_px):
    fig.text(px / W, 1 - py / H, name, rotation=45, ha='center', va='center', fontsize=12.5, color='#848484')

class_py = [154, 362, 936]
for name, py in zip(class_names, class_py):
    fig.text(812 / W, 1 - py / H, name, rotation=90, ha='center', va='center', fontsize=12.5, color='#848484')

cb = ax.collections[0].colorbar
cb.outline.set_visible(False)
cb.ax.tick_params(length=0, labelsize=7.3, labelcolor='#4d4d4d', pad=5)
fig.text(799 / W, 1 - 1391 / H, 'mapping_prob', ha='left', va='center', fontsize=8.5, color='#222222')

fig.savefig('out.png', dpi=100)
